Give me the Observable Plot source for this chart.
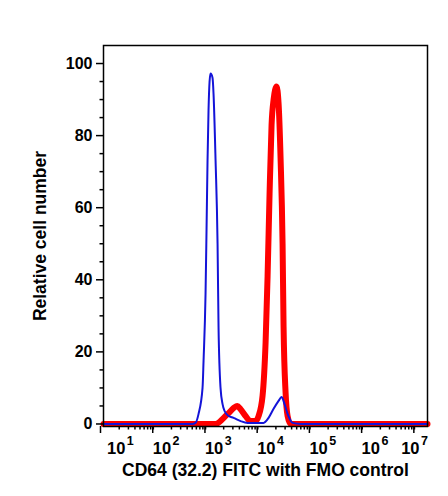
<!DOCTYPE html>
<html><head><meta charset="utf-8">
<script src="https://cdn.jsdelivr.net/npm/d3@7"></script>
<script src="https://cdn.jsdelivr.net/npm/@observablehq/plot@0.6"></script>
<style>
body{margin:0;background:#fff;}
</style></head><body><div id="chart"></div>
<script>
// FMO control (blue) histogram
const blueX = [10, 300, 500, 578, 661, 788, 824, 899, 940, 982, 1026, 1074, 1122, 1225, 1280, 1400, 1528, 1596, 1742, 1905, 2080, 2483, 3090, 4217, 5740, 11620, 14490, 18070, 22500, 25700, 29300, 33500, 41800, 60000, 1.6e7];
const blueY = [0, 0, 0, 0.3, 2.8, 10, 17.5, 36, 54, 73, 87, 95, 97.2, 96, 91.5, 73, 50, 26.7, 10, 5.5, 3.6, 2.2, 1.7, 0.8, 0.3, 0.3, 1.7, 4.2, 6.4, 7.5, 5.5, 2.8, 0.3, 0, 0];
// CD64 FITC stained (red) histogram
const redX = [10, 1000, 1400, 2019, 2518, 3140, 3640, 4217, 5250, 6550, 8170, 9310, 11110, 12690, 13870, 15140, 16530, 18070, 20600, 22500, 24600, 26850, 28060, 30690, 33500, 38200, 1.6e7];
const redY = [0, 0, 0, 1.75, 3.1, 4.5, 5.0, 4.1, 2.2, 0.8, 0.8, 2.2, 7.8, 22.5, 41, 64, 83, 90, 93.6, 89, 73.6, 50, 27, 8.6, 2.2, 0, 0];

const xMajorTicks = [1e1, 1e2, 1e3, 1e4, 1e5, 1e6, 1e7];
const yMajorTicks = [0, 20, 40, 60, 80, 100];
const yMinorTicks = [5, 10, 15, 25, 30, 35, 45, 50, 55, 65, 70, 75, 85, 90, 95];
const xTitle = "CD64 (32.2) FITC with FMO control";
const yTitle = "Relative cell number";

const xDomain = [10, 1.6e7];
const blue = blueX.map((x, i) => ({x, y: blueY[i]}));
const red = redX.map((x, i) => ({x, y: redY[i]}));
const xMinorTicks = [];
for (let e = 1; e <= 7; e++) for (let m = 2; m <= 9; m++) {
  const v = m * 10 ** e;
  if (v <= xDomain[1]) xMinorTicks.push(v);
}

const font = "'Liberation Sans', Arial, Helvetica, sans-serif";
const plot = Plot.plot({
  width: 448, height: 496,
  marginLeft: 103, marginRight: 21, marginTop: 45, marginBottom: 70,
  style: {fontFamily: font, fontWeight: "bold", fontSize: "16px", color: "#000", background: "#fff", overflow: "visible"},
  x: {type: "log", domain: xDomain},
  y: {domain: [-0.7, 105]},
  marks: [
    Plot.line(red, {x: "x", y: "y", stroke: "#ff0000", strokeWidth: 6, curve: "monotone-x"}),
    Plot.line(blue, {x: "x", y: "y", stroke: "#1414d8", strokeWidth: 2, curve: "monotone-x"}),
    Plot.frame({stroke: "#000", strokeWidth: 1.5}),
    Plot.axisY({ticks: yMinorTicks, tickSize: 3.5, strokeWidth: 1.5, fill: "none"}),
    Plot.axisY({ticks: yMajorTicks, tickSize: 7, tickPadding: 4, strokeWidth: 1.5,
      label: yTitle, labelAnchor: "center", labelArrow: "none", labelOffset: 70}),
    Plot.axisX({ticks: xMinorTicks, tickSize: 3.5, strokeWidth: 1.5, fill: "none"}),
    Plot.axisX({ticks: xMajorTicks, tickSize: 7, tickPadding: 9, strokeWidth: 1.5,
      textAnchor: "start", dx: -3,
      tickFormat: d => "10^" + Math.round(Math.log10(d)),
      label: xTitle, labelAnchor: "center", labelArrow: "none", labelOffset: 49})
  ]
});
document.getElementById("chart").appendChild(plot);

const svg = plot.tagName.toLowerCase() === "svg" ? plot : plot.querySelector("svg");
const setFont = (sel, size) => svg.querySelectorAll(sel).forEach(t => {
  t.style.fontSize = size; t.style.fontWeight = "bold"; t.style.fontFamily = font;
});
setFont('g[aria-label="y-axis tick label"] text', "16px");
setFont('g[aria-label="x-axis tick label"] text', "16.5px");
setFont('g[aria-label="x-axis label"] text', "17.5px");
setFont('g[aria-label="y-axis label"] text', "17.5px");

// superscript exponents on the x tick labels, kept inside the frame
svg.querySelectorAll('g[aria-label="x-axis tick label"] text').forEach(t => {
  const s = t.textContent;
  const [base, exp] = s.split("^");
  if (exp === undefined) return;
  t.textContent = "";
  const b = document.createElementNS("http://www.w3.org/2000/svg", "tspan");
  b.textContent = base;
  const e = document.createElementNS("http://www.w3.org/2000/svg", "tspan");
  e.textContent = exp;
  e.style.fontSize = "12.5px";
  e.setAttribute("dy", "-9.5");
  e.setAttribute("dx", "1.5");
  t.appendChild(b); t.appendChild(e);
});
const svgBox = svg.getBoundingClientRect();
svg.querySelectorAll('g[aria-label="x-axis tick label"] text').forEach(t => {
  const r = t.getBoundingClientRect();
  const left = r.left - svgBox.left, right = r.right - svgBox.left;
  let shift = 0;
  if (left < 107) shift = 107 - left;
  if (right > 428) shift = 428 - right;
  if (shift) {
    const cur = parseFloat(t.getAttribute("dx") || 0);
    t.setAttribute("dx", cur + shift);
  }
});
</script></body></html>
